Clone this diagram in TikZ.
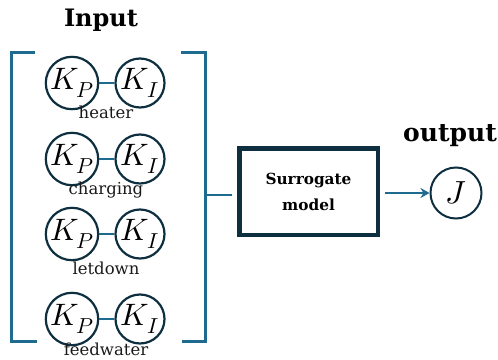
\documentclass[tikz,border=0pt]{standalone}
\usepackage{unicode-math}
\setmainfont{DejaVu Serif}
\setmathfont{Latin Modern Math}
\usepackage{tikz}
\usetikzlibrary{calc, arrows.meta, positioning}

\definecolor{brackblue}{HTML}{1F6A8F}
\definecolor{darknavy}{HTML}{0E2F40}

\begin{document}
\begin{tikzpicture}[x=1pt, y=-1pt, >={Stealth[length=9pt, width=10pt]},
    gain/.style={circle, draw=darknavy, line width=2.2pt, minimum size=49pt,
        inner sep=0pt, font=\fontsize{31}{34}\selectfont},
    tag/.style={anchor=base, text=black!90, font=\fontsize{16.5}{20}\selectfont},
    link/.style={brackblue, line width=2.2pt},
    title/.style={font=\bfseries\fontsize{24}{28}\selectfont}]

    \useasboundingbox (0,0) rectangle (498,359);

    % =================================================================
    % INPUT: four controller gain pairs inside a bracket
    % =================================================================
    \node[title] (input) at (101,20) {Input};

    % bracket
    \draw[link, line width=3pt] (35,52) -- (11,52) -- (11,341) -- (37,341);
    \draw[link, line width=3pt] (181,52) -- (205,52) -- (205,341) -- (182,341);
    \coordinate (brk) at (205,195);

    % gain pairs with their loop names
    \foreach \y/\base/\loopname [count=\i] in
        {83/118/heater, 159/194/charging, 234/274/letdown, 319/355/feedwater}{
        \node[gain] (kp\i) at (72,\y) {$K_P$};
        \node[gain] (ki\i) at (140,\y) {$K_I$};
        \draw[link] (kp\i) -- (ki\i);
        \node[tag] (lab\i) at (106,\base) {\loopname};
    }

    % =================================================================
    % SURROGATE MODEL AND OUTPUT
    % =================================================================
    \node[draw=darknavy, line width=4.5pt, minimum width=138.5pt,
        minimum height=86.5pt, align=center,
        font=\bfseries\fontsize{15.3}{26}\selectfont] (model) at (308.5,191.5)
        {Surrogate\\model};

    \draw[link, shorten >=5pt] (brk) -- (brk -| model.west);

    \node[circle, draw=darknavy, line width=2pt, minimum size=51pt,
        inner sep=0pt, font=\fontsize{32}{34}\selectfont] (cost) at (456,193) {$J$};
    \node[title, font=\bfseries\fontsize{25}{28}\selectfont] (output) at (450,136) {output};

    % arrow to the output
    \draw[->, link, shorten <=5pt] (model.east |- cost) -- (cost);

\end{tikzpicture}
\end{document}
